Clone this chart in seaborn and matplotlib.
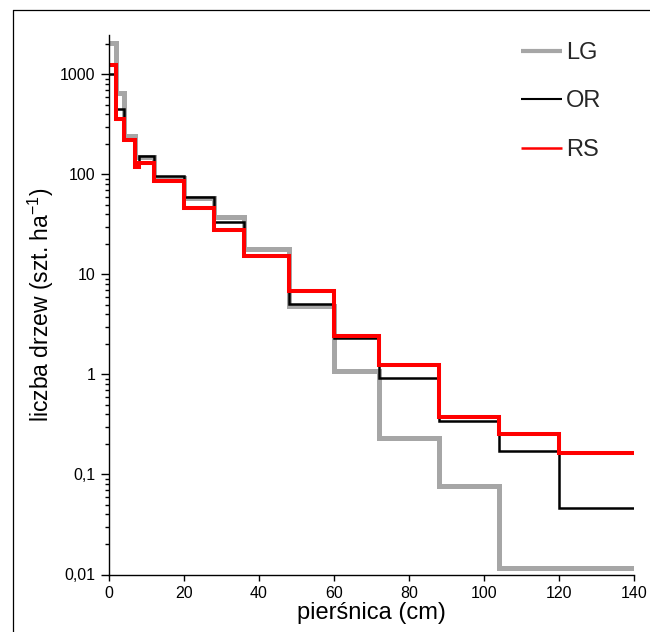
import matplotlib
matplotlib.use("Agg")
import numpy as np
import pandas as pd
import matplotlib.pyplot as plt
import seaborn as sns
from matplotlib.lines import Line2D
from matplotlib.ticker import LogLocator, NullFormatter

# ---- data ----
edges = [0, 2, 4, 7, 8, 12, 20, 28, 36, 48, 60, 72, 88, 104, 120, 140]
lg_vals = [2065, 653, 243, 149, 149, 92, 58, 37.8, 17.8, 4.8, 1.09, 0.23, 0.077, 0.0115, 0.0115]
or_vals = [1000, 452, 225, 125, 152, 97, 60, 33.6, 15.6, 5.1, 2.3, 0.93, 0.34, 0.17, 0.0459]
rs_vals = [1245, 356, 221, 120, 129, 86, 45.9, 27.8, 15.2, 6.9, 2.42, 1.24, 0.38, 0.255, 0.164]
series_names = ["LG", "OR", "RS"]
x_ticks = [0, 20, 40, 60, 80, 100, 120, 140]
y_ticks = [0.01, 0.1, 1, 10, 100, 1000]
y_tick_labels = ["0,01", "0,1", "1", "10", "100", "1000"]

colors = ["#a6a6a6", "#000000", "#ff0000"]
widths = [3.6, 1.8, 2.9]
legend_widths = [3.0, 1.5, 1.8]

sns.set_theme(style="ticks")
plt.rcParams["font.family"] = ["Liberation Sans", "DejaVu Sans"]
plt.rcParams["mathtext.fontset"] = "custom"
plt.rcParams["mathtext.rm"] = "Liberation Sans"

fig = plt.figure(figsize=(6.5, 6.32), dpi=100)
W, H = 650, 632
x0, x1, ytop, ybot = 108.5, 634, 35, 574.5
ax = fig.add_axes([x0 / W, 1 - ybot / H, (x1 - x0) / W, (ybot - ytop) / H])

for name, vals, c, lw in zip(series_names, [lg_vals, or_vals, rs_vals], colors, widths):
    df = pd.DataFrame({"x": edges, "y": list(vals) + [vals[-1]]})
    sns.lineplot(data=df, x="x", y="y", ax=ax, color=c, linewidth=lw,
                 drawstyle="steps-post", estimator=None, legend=False,
                 solid_joinstyle="miter", solid_capstyle="butt")

ax.set_yscale("log")
ax.set_xlim(0, 140)
ax.set_ylim(0.01, 2480)
ax.set_xticks(x_ticks)
ax.set_xticklabels([str(v) for v in x_ticks])
ax.set_yticks(y_ticks)
ax.set_yticklabels(y_tick_labels)
ax.yaxis.set_minor_locator(LogLocator(base=10, subs=np.arange(2, 10)))
ax.yaxis.set_minor_formatter(NullFormatter())

for s in ["top", "right"]:
    ax.spines[s].set_visible(False)
for s in ["left", "bottom"]:
    ax.spines[s].set_color("black")
    ax.spines[s].set_linewidth(1.0)

ax.tick_params(axis="both", which="major", direction="out", colors="black",
               labelsize=11.5, width=1.0)
ax.tick_params(axis="y", which="major", length=6)
ax.tick_params(axis="x", which="major", length=4, pad=4)
ax.tick_params(axis="y", which="minor", direction="out", length=3, width=1.0, color="black")

ax.set_xlabel("pierśnica (cm)", fontsize=17, color="black", labelpad=1)
ax.set_ylabel(r"liczba drzew (szt. ha$^{\mathregular{-1}}$)", fontsize=16.5, color="black", labelpad=3)

handles = [Line2D([], [], color=c, lw=lw, solid_capstyle="butt") for c, lw in zip(colors, legend_widths)]
ax.legend(handles, series_names, loc="upper left",
          bbox_to_anchor=(521 / W, 1 - 42 / H), bbox_transform=fig.transFigure,
          frameon=False, fontsize=17, handlelength=1.75, handletextpad=0.15,
          labelspacing=1.12, borderpad=0, borderaxespad=0)

# outer frame of the picture
fig.add_artist(Line2D([13 / W, 13 / W], [0, 1 - 10 / H], transform=fig.transFigure, color="black", lw=0.9))
fig.add_artist(Line2D([13 / W, 1], [1 - 10 / H, 1 - 10 / H], transform=fig.transFigure, color="black", lw=0.9))

fig.savefig("out.png", dpi=100)
